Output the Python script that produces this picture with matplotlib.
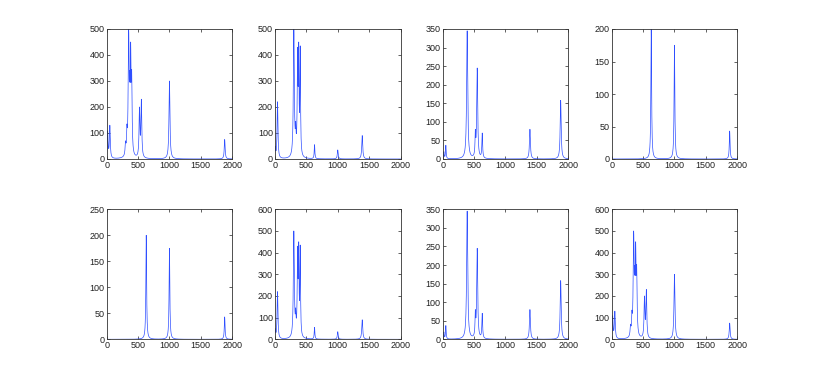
import numpy as np
import matplotlib
matplotlib.use("Agg")
import matplotlib.pyplot as plt

plt.rcParams['font.family'] = ['Liberation Sans', 'DejaVu Sans']

# Peak tables (centre, apex height, half-width) for each spectrum
specA_centers = [15, 50, 300, 322, 350, 368, 382, 398, 522, 552, 1000, 1880]
specA_heights = [110, 130, 70, 135, 500, 340, 450, 345, 200, 230, 300, 75]
specA_widths = [8, 8, 8, 6, 9, 6, 6, 8, 8, 8, 9, 8]

specB_centers = [5, 40, 300, 330, 360, 378, 402, 630, 1000, 1390]
specB_heights = [50, 220, 500, 145, 430, 450, 435, 55, 35, 90]
specB_widths = [6, 8, 9, 6, 7, 6, 6, 6, 8, 9]

specC_centers = [18, 50, 390, 520, 550, 630, 1390, 1880]
specC_heights = [20, 37, 345, 80, 245, 70, 80, 158]
specC_widths = [6, 6, 10, 6, 9, 7, 9, 9]

specD_centers = [630, 1000, 1880]
specD_heights = [200, 175, 43]
specD_widths = [7, 7, 7]

panel_specs = ['A', 'B', 'C', 'D', 'D', 'B', 'C', 'A']
panel_ymax = [500, 500, 350, 200, 250, 600, 350, 600]
panel_yticks = [
    [0, 100, 200, 300, 400, 500],
    [0, 100, 200, 300, 400, 500],
    [0, 50, 100, 150, 200, 250, 300, 350],
    [0, 50, 100, 150, 200],
    [0, 50, 100, 150, 200, 250],
    [0, 100, 200, 300, 400, 500, 600],
    [0, 50, 100, 150, 200, 250, 300, 350],
    [0, 100, 200, 300, 400, 500, 600],
]
xticks = [0, 500, 1000, 1500, 2000]

specs = {
    'A': (specA_centers, specA_heights, specA_widths),
    'B': (specB_centers, specB_heights, specB_widths),
    'C': (specC_centers, specC_heights, specC_widths),
    'D': (specD_centers, specD_heights, specD_widths),
}

x = np.arange(0, 2001, 2.0)


def spectrum(c, h, w):
    c = np.asarray(c, float)
    h = np.asarray(h, float)
    w = np.asarray(w, float)
    # amplitudes so that the summed curve reaches the read apex heights
    A = 1.0 / (1 + ((c[:, None] - c[None, :]) / w[None, :]) ** 2)
    amp = np.linalg.solve(A, h)
    amp = np.clip(amp, 0, None)
    y = np.zeros_like(x)
    for ci, ai, wi in zip(c, amp, w):
        y += ai / (1 + ((x - ci) / wi) ** 2)
    return y


W, H = 817, 382
fig = plt.figure(figsize=(W / 100, H / 100), dpi=100)
lefts = [106.7, 275.0, 442.7, 611.7]
ax_w = 125.5
tops = [29.0, 209.3]
ax_h = 130.0

for i, (key, ymax, yt) in enumerate(zip(panel_specs, panel_ymax, panel_yticks)):
    r, c = divmod(i, 4)
    l = lefts[c]
    t = tops[r]
    ax = fig.add_axes([l / W, 1 - (t + ax_h) / H, ax_w / W, ax_h / H])
    y = spectrum(*specs[key])
    ax.plot(x, y, color='#2f4fff', lw=0.5)
    ax.set_xlim(0, 2000)
    ax.set_ylim(0, ymax)
    ax.set_xticks(xticks)
    ax.set_yticks(yt)
    ax.tick_params(direction='in', top=True, right=True, length=2.5, width=0.5,
                   labelsize=6.5, pad=1.5, colors='#222222')
    for s in ax.spines.values():
        s.set_linewidth(0.6)
        s.set_color('#333333')

fig.savefig('out.png', dpi=100)
